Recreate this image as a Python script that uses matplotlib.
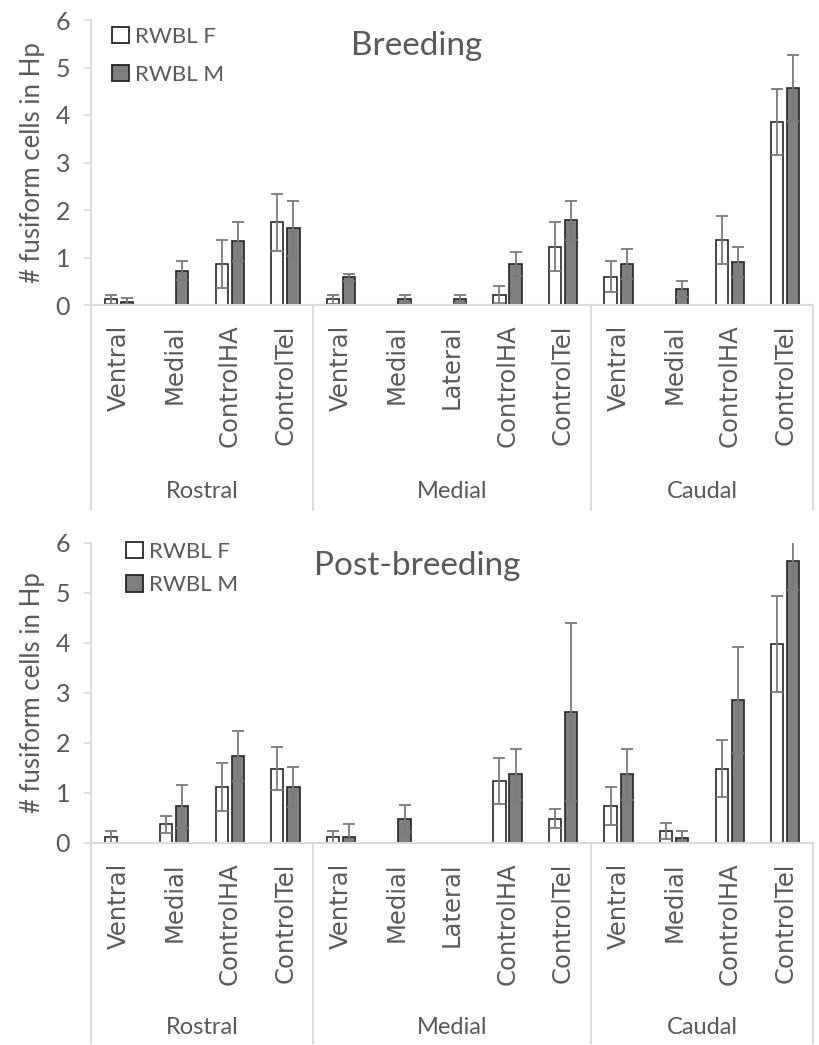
import numpy as np
import matplotlib
matplotlib.use("Agg")
import matplotlib.pyplot as plt
import matplotlib.transforms as mtransforms
from matplotlib.patches import Patch

nan = np.nan

# categories along the x axis
regions = ["Ventral", "Medial", "ControlHA", "ControlTel",
           "Ventral", "Medial", "Lateral", "ControlHA", "ControlTel",
           "Ventral", "Medial", "ControlHA", "ControlTel"]
groups = ["Rostral", "Medial", "Caudal"]
group_sizes = [4, 5, 4]

# Breeding
breed_f = [0.12, nan, 0.86, 1.74, 0.12, nan, nan, 0.22, 1.23, 0.60, nan, 1.37, 3.85]
breed_f_err = [0.10, nan, 0.51, 0.60, 0.10, nan, nan, 0.18, 0.51, 0.33, nan, 0.51, 0.69]
breed_m = [0.06, 0.72, 1.34, 1.62, 0.58, 0.13, 0.13, 0.86, 1.78, 0.86, 0.34, 0.91, 4.57]
breed_m_err = [0.08, 0.20, 0.41, 0.58, 0.07, 0.09, 0.09, 0.25, 0.41, 0.31, 0.17, 0.31, 0.69]

# Post-breeding
post_f = [0.12, 0.38, 1.12, 1.49, 0.12, nan, nan, 1.25, 0.49, 0.74, 0.25, 1.49, 3.99]
post_f_err = [0.13, 0.17, 0.48, 0.43, 0.13, nan, nan, 0.46, 0.19, 0.38, 0.16, 0.57, 0.96]
post_m = [nan, 0.74, 1.75, 1.12, 0.12, 0.49, nan, 1.38, 2.62, 1.38, 0.11, 2.86, 5.64]
post_m_err = [nan, 0.43, 0.50, 0.40, 0.26, 0.27, nan, 0.51, 1.78, 0.51, 0.14, 1.06, 0.57]

W, H = 819, 1045
TEXT = "#595959"
AXIS = "#d9d9d9"
DARK = "#7f7f7f"
EDGE = "#262626"
ERR = "#7a7a7a"
FONT = "Lato"


def draw_panel(fig, rect, f, f_err, m, m_err, title, title_y, leg_y, leg_x,
               label_bottom_px, group_y_px, leg_spacing):
    ax = fig.add_axes(rect)
    x = np.arange(len(regions))
    off = 0.145
    bw = 0.22
    ekw = dict(ecolor=ERR, elinewidth=1.3, capsize=4.5, capthick=1.3)
    ax.bar(x - off, f, bw, yerr=f_err, color="white", edgecolor=EDGE,
           linewidth=1.2, error_kw=ekw, label="RWBL F")
    ax.bar(x + off, m, bw, yerr=m_err, color=DARK, edgecolor=EDGE,
           linewidth=1.2, error_kw=ekw, label="RWBL M")

    ax.set_xlim(-0.5, len(regions) - 0.5)
    ax.set_ylim(0, 6)
    ax.set_yticks(range(7))
    ax.set_yticklabels([str(v) for v in range(7)], fontsize=18,
                       color=TEXT, family=FONT)
    ax.tick_params(axis="y", length=5, color=AXIS, width=1.2, pad=10)
    ax.set_xticks(x)
    ax.set_xticklabels(regions, rotation=90, va="top")
    for t in ax.get_xticklabels():
        t.set_fontfamily("DejaVu Sans")
        t.set_fontsize(17.5)
        t.set_color(TEXT)
    ax.tick_params(axis="x", length=0, pad=14)

    for s in ["top", "right"]:
        ax.spines[s].set_visible(False)
    ax.spines["left"].set_color(AXIS)
    ax.spines["bottom"].set_color(AXIS)
    ax.spines["left"].set_linewidth(1.3)
    ax.spines["bottom"].set_linewidth(1.5)

    # group separators in the label area
    tr = mtransforms.blended_transform_factory(ax.transData, fig.transFigure)
    y0 = rect[1]
    y1 = 1 - label_bottom_px / H
    bounds = np.concatenate([[0], np.cumsum(group_sizes)]) - 0.5
    for b in bounds:
        ax.plot([b, b], [y0, y1], color=AXIS, lw=1.3, transform=tr,
                clip_on=False)
    for g, lo, hi in zip(groups, bounds[:-1], bounds[1:]):
        ax.text((lo + hi) / 2, 1 - group_y_px / H, g, transform=tr,
                ha="center", va="center", fontsize=17, color=TEXT,
                family=FONT)

    fig.text(417 / W, title_y, title, ha="center", va="center",
             fontsize=24, color=TEXT, family=FONT)
    fig.text(33 / W, rect[1] + rect[3] / 2, "# fusiform cells in Hp",
             rotation=90, ha="center", va="center", fontsize=18.5,
             color=TEXT, family=FONT)

    handles = [Patch(facecolor="white", edgecolor=EDGE, linewidth=1.3),
               Patch(facecolor=DARK, edgecolor=EDGE, linewidth=1.3)]
    leg = ax.legend(handles, ["RWBL F", "RWBL M"], loc="upper left",
                    bbox_to_anchor=(leg_x, leg_y), bbox_transform=fig.transFigure,
                    frameon=False, fontsize=16, handlelength=0.75,
                    handleheight=0.75, handletextpad=0.3,
                    labelspacing=leg_spacing, borderpad=0, borderaxespad=0)
    for t in leg.get_texts():
        t.set_color(TEXT)
        t.set_family(FONT)
    return ax


fig = plt.figure(figsize=(W / 100, H / 100), dpi=100)

left = 91 / W
width = 813 / W - left

top_rect = [left, 1 - 305 / H, width, (305 - 20) / H]
draw_panel(fig, top_rect, breed_f, breed_f_err, breed_m, breed_m_err,
           "Breeding", 1 - 46 / H, 1 - 27 / H, 112 / W, 510, 492, 0.8)

bot_rect = [left, 1 - 843 / H, width, (843 - 543) / H]
draw_panel(fig, bot_rect, post_f, post_f_err, post_m, post_m_err,
           "Post-breeding", 1 - 566 / H, 1 - 542 / H, 126 / W, 1043, 1028, 0.6)

fig.savefig("out.png", dpi=100)
